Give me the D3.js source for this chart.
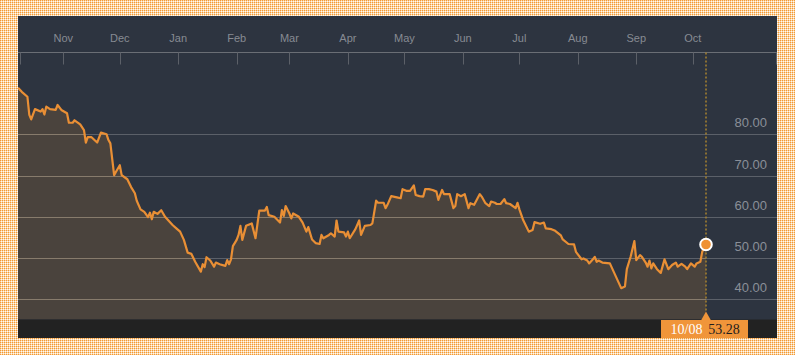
<!DOCTYPE html>
<html>
<head>
<meta charset="utf-8">
<script src="https://cdn.jsdelivr.net/npm/d3@7"></script>
<style>
  html, body { margin: 0; padding: 0; background: #ffffff; }
  svg { display: block; }
</style>
</head>
<body>
<svg id="chart" width="795" height="355"></svg>
<script>
// ---- data (Brent-like daily price) ----
const dates = [
  "2014-10-08","2014-10-10","2014-10-13","2014-10-14","2014-10-15","2014-10-17","2014-10-20","2014-10-21","2014-10-22","2014-10-23",
  "2014-10-25","2014-10-28","2014-10-29","2014-10-31","2014-11-03","2014-11-04","2014-11-06","2014-11-07","2014-11-10","2014-11-12",
  "2014-11-13","2014-11-14","2014-11-16","2014-11-19","2014-11-21","2014-11-24","2014-11-25","2014-11-26","2014-11-28","2014-11-29",
  "2014-12-01","2014-12-02","2014-12-05","2014-12-07","2014-12-09","2014-12-10","2014-12-12","2014-12-14","2014-12-16","2014-12-17",
  "2014-12-18","2014-12-19","2014-12-21","2014-12-23","2014-12-25","2014-12-29","2014-12-31","2015-01-02","2015-01-04","2015-01-06",
  "2015-01-08","2015-01-10","2015-01-13","2015-01-14","2015-01-15","2015-01-16","2015-01-18","2015-01-20","2015-01-21","2015-01-23",
  "2015-01-26","2015-01-27","2015-01-28","2015-01-29","2015-01-30","2015-02-01","2015-02-02","2015-02-03","2015-02-04","2015-02-06",
  "2015-02-09","2015-02-11","2015-02-13","2015-02-16","2015-02-17","2015-02-18","2015-02-21","2015-02-24","2015-02-25","2015-02-26",
  "2015-02-27","2015-03-01","2015-03-02","2015-03-03","2015-03-06","2015-03-08","2015-03-10","2015-03-11","2015-03-13","2015-03-15",
  "2015-03-17","2015-03-18","2015-03-19","2015-03-22","2015-03-23","2015-03-25","2015-03-26","2015-03-27","2015-03-30","2015-03-31",
  "2015-04-01","2015-04-02","2015-04-05","2015-04-07","2015-04-08","2015-04-10","2015-04-13","2015-04-14","2015-04-16","2015-04-17",
  "2015-04-20","2015-04-21","2015-04-22","2015-04-24","2015-04-27","2015-04-29","2015-04-30","2015-05-02","2015-05-04","2015-05-06",
  "2015-05-07","2015-05-09","2015-05-11","2015-05-12","2015-05-14","2015-05-16","2015-05-18","2015-05-19","2015-05-21","2015-05-22",
  "2015-05-25","2015-05-27","2015-05-28","2015-05-29","2015-05-31","2015-06-02","2015-06-04","2015-06-05","2015-06-07","2015-06-10",
  "2015-06-11","2015-06-13","2015-06-15","2015-06-16","2015-06-18","2015-06-19","2015-06-21","2015-06-23","2015-06-24","2015-06-26",
  "2015-06-29","2015-06-30","2015-07-01","2015-07-03","2015-07-06","2015-07-08","2015-07-09","2015-07-12","2015-07-14","2015-07-15",
  "2015-07-18","2015-07-20","2015-07-23","2015-07-24","2015-07-27","2015-07-30","2015-07-31","2015-08-03","2015-08-04","2015-08-06",
  "2015-08-07","2015-08-09","2015-08-10","2015-08-11","2015-08-12","2015-08-14","2015-08-18","2015-08-20","2015-08-22","2015-08-24",
  "2015-08-26","2015-08-27","2015-08-29","2015-08-31","2015-09-01","2015-09-03","2015-09-04","2015-09-06","2015-09-07","2015-09-08",
  "2015-09-09","2015-09-10","2015-09-12","2015-09-14","2015-09-16","2015-09-18","2015-09-20","2015-09-22","2015-09-23","2015-09-25",
  "2015-09-27","2015-09-28","2015-09-30","2015-10-02","2015-10-03","2015-10-05","2015-10-06","2015-10-08"
];
const prices = [
  91.3,90.3,89.1,84.7,83.6,86.1,85.5,86.1,84.8,86.7,
  86.1,85.9,87.1,85.9,85.1,82.8,82.8,83.4,82.4,81.0,
  78.0,79.3,79.3,78.0,80.4,80.0,78.6,77.8,70.1,70.9,
  72.5,70.1,69.1,67.2,65.7,63.9,61.8,61.2,59.9,61.0,
  59.4,61.2,60.7,61.6,60.0,58.0,57.2,56.4,54.4,51.3,
  51.0,49.1,46.7,48.5,47.8,50.2,49.4,47.9,48.9,48.5,
  48.1,49.5,48.5,49.7,52.9,54.4,55.6,57.8,54.4,57.8,
  58.4,54.8,61.5,61.5,62.4,60.4,60.0,58.6,61.6,60.2,
  62.6,60.8,59.6,60.8,60.0,58.6,56.4,57.5,54.5,53.6,
  53.4,55.6,54.8,55.6,56.0,55.2,59.1,56.4,56.2,55.2,
  56.4,54.8,57.0,59.1,55.6,57.8,58.0,58.4,63.9,63.4,
  63.4,62.1,62.9,65.0,64.7,64.5,66.7,66.3,66.3,67.6,
  65.3,65.0,64.9,66.7,66.7,66.5,66.1,64.1,66.5,65.5,
  65.5,62.1,62.6,65.5,65.0,65.5,62.1,63.3,62.9,65.5,
  64.9,63.3,62.6,63.7,63.4,63.1,63.1,64.3,63.3,63.1,
  62.1,63.4,61.8,59.2,56.4,56.8,58.7,58.3,58.6,57.2,
  57.0,56.6,55.5,54.5,53.4,53.3,51.5,49.7,49.9,49.4,
  48.7,49.7,50.3,49.1,49.4,48.9,48.7,46.7,44.7,42.7,
  43.1,47.3,50.3,54.1,49.5,50.7,50.3,48.9,47.9,49.4,
  47.5,48.7,47.3,46.4,49.7,47.3,48.3,48.9,47.9,48.6,
  47.9,47.3,48.7,47.9,48.7,49.1,51.5,53.28
];
const monthLabels = ["Nov","Dec","Jan","Feb","Mar","Apr","May","Jun","Jul","Aug","Sep","Oct"];
const monthStarts = ["2014-11-01","2014-12-01","2015-01-01","2015-02-01","2015-03-01","2015-04-01",
                     "2015-05-01","2015-06-01","2015-07-01","2015-08-01","2015-09-01","2015-10-01"];
const yTicks = [40, 50, 60, 70, 80];
const yDomain = [35, 100];

// ---- layout ----
const W = 795, H = 355;
const panel = { x0: 18, x1: 777, y0: 16, y1: 338 };
const plot = { x0: 18, x1: 706, top: 51.8, bottom: 319.9 };
const stripTop = 319.5;

const parse = d3.utcParse("%Y-%m-%d");
const data = dates.map((d, i) => ({ date: parse(d), value: prices[i] }));
const last = data[data.length - 1];

const x = d3.scaleUtc()
  .domain([data[0].date, last.date])
  .range([plot.x0, plot.x1]);
const y = d3.scaleLinear().domain(yDomain).range([plot.bottom, plot.top]);

const svg = d3.select("#chart");
const defs = svg.append("defs");

// dotted orange frame pattern
const pat = defs.append("pattern").attr("id", "dots")
  .attr("width", 2).attr("height", 2).attr("patternUnits", "userSpaceOnUse");
pat.append("rect").attr("width", 2).attr("height", 2).attr("fill", "#fffaf2");
pat.append("rect").attr("width", 1).attr("height", 1).attr("fill", "#f39a35");
pat.append("rect").attr("x", 1).attr("width", 1).attr("height", 1).attr("fill", "#fad3a3");
pat.append("rect").attr("y", 1).attr("width", 1).attr("height", 1).attr("fill", "#fad3a3");

svg.append("rect").attr("width", W).attr("height", H).attr("fill", "url(#dots)");

// panel
svg.append("rect")
  .attr("x", panel.x0).attr("y", panel.y0)
  .attr("width", panel.x1 - panel.x0).attr("height", panel.y1 - panel.y0)
  .attr("fill", "#2d3440");

// area
const area = d3.area()
  .x(d => x(d.date)).y0(stripTop).y1(d => y(d.value));
const areaPath = area(data);

defs.append("clipPath").attr("id", "areaClip")
  .append("path").attr("d", areaPath);

// gridlines (dark region)
svg.append("g").selectAll("line").data(yTicks).join("line")
  .attr("x1", panel.x0).attr("x2", panel.x1)
  .attr("y1", d => Math.round(y(d)) + 0.5).attr("y2", d => Math.round(y(d)) + 0.5)
  .attr("stroke", "#5b6069").attr("stroke-width", 1.2);

svg.append("path").attr("d", areaPath).attr("fill", "#4a433d");

// gridlines inside the filled area
svg.append("g").attr("clip-path", "url(#areaClip)")
  .selectAll("line").data(yTicks).join("line")
  .attr("x1", panel.x0).attr("x2", panel.x1)
  .attr("y1", d => Math.round(y(d)) + 0.5).attr("y2", d => Math.round(y(d)) + 0.5)
  .attr("stroke", "#877b6c").attr("stroke-width", 1.2);

// right value labels
svg.append("g").selectAll("text").data(yTicks).join("text")
  .attr("x", 767).attr("y", d => y(d) - 7)
  .attr("text-anchor", "end")
  .attr("font-family", "Liberation Sans, Arial, sans-serif")
  .attr("font-size", 13)
  .attr("fill", "#8a8f98")
  .text(d => d3.format(".2f")(d));

// top axis
const axisY = 52.5;
svg.append("line")
  .attr("x1", panel.x0).attr("x2", panel.x1)
  .attr("y1", axisY).attr("y2", axisY)
  .attr("stroke", "#6a6e75").attr("stroke-width", 1);

const edgeTicks = [panel.x0 + 1.5, panel.x1 - 1];
const monthX = monthStarts.map(s => x(parse(s)));
svg.append("g").selectAll("line").data(monthX.concat(edgeTicks)).join("line")
  .attr("x1", d => Math.round(d) + 0.5).attr("x2", d => Math.round(d) + 0.5)
  .attr("y1", axisY).attr("y2", 64.5)
  .attr("stroke", "#5c6068").attr("stroke-width", 1);

svg.append("g").selectAll("text").data(monthStarts).join("text")
  .attr("x", (d) => x(parse(d)))
  .attr("y", 42)
  .attr("text-anchor", "middle")
  .attr("font-family", "Liberation Sans, Arial, sans-serif")
  .attr("font-size", 11)
  .attr("fill", "#878b93")
  .text((d, i) => monthLabels[i]);

// bottom strip
svg.append("rect")
  .attr("x", panel.x0).attr("y", stripTop)
  .attr("width", panel.x1 - panel.x0).attr("height", panel.y1 - stripTop)
  .attr("fill", "#222222");

// price line
const line = d3.line().x(d => x(d.date)).y(d => y(d.value));
svg.append("path").attr("d", line(data))
  .attr("fill", "none")
  .attr("stroke", "#e98f35")
  .attr("stroke-width", 2.2)
  .attr("stroke-linejoin", "round");

// crosshair
const cx = x(last.date);
svg.append("line")
  .attr("x1", cx).attr("x2", cx)
  .attr("y1", axisY).attr("y2", 312)
  .attr("stroke", "#a8832f").attr("stroke-width", 1.5)
  .attr("stroke-dasharray", "2,2");

// value flag
svg.append("rect")
  .attr("x", 661).attr("y", stripTop + 0.5)
  .attr("width", 87).attr("height", panel.y1 - stripTop - 0.5)
  .attr("fill", "#f0953a");
svg.append("path")
  .attr("d", `M${cx - 5},${stripTop + 1} L${cx},${311.5} L${cx + 5},${stripTop + 1} Z`)
  .attr("fill", "#f0953a");

svg.append("text")
  .attr("x", 686.5).attr("y", 333.5)
  .attr("text-anchor", "middle")
  .attr("font-family", "Liberation Serif, Times New Roman, serif")
  .attr("font-size", 14)
  .attr("fill", "#ffffff")
  .text(d3.utcFormat("%m/%d")(last.date));
svg.append("text")
  .attr("x", 724).attr("y", 333.5)
  .attr("text-anchor", "middle")
  .attr("font-family", "Liberation Serif, Times New Roman, serif")
  .attr("font-size", 14)
  .attr("fill", "#1e1e1e")
  .text(d3.format(".2f")(last.value));

// end marker
svg.append("circle")
  .attr("cx", cx).attr("cy", y(last.value))
  .attr("r", 5.8)
  .attr("fill", "#ef9133")
  .attr("stroke", "#ffffff").attr("stroke-width", 2);
</script>
</body>
</html>
